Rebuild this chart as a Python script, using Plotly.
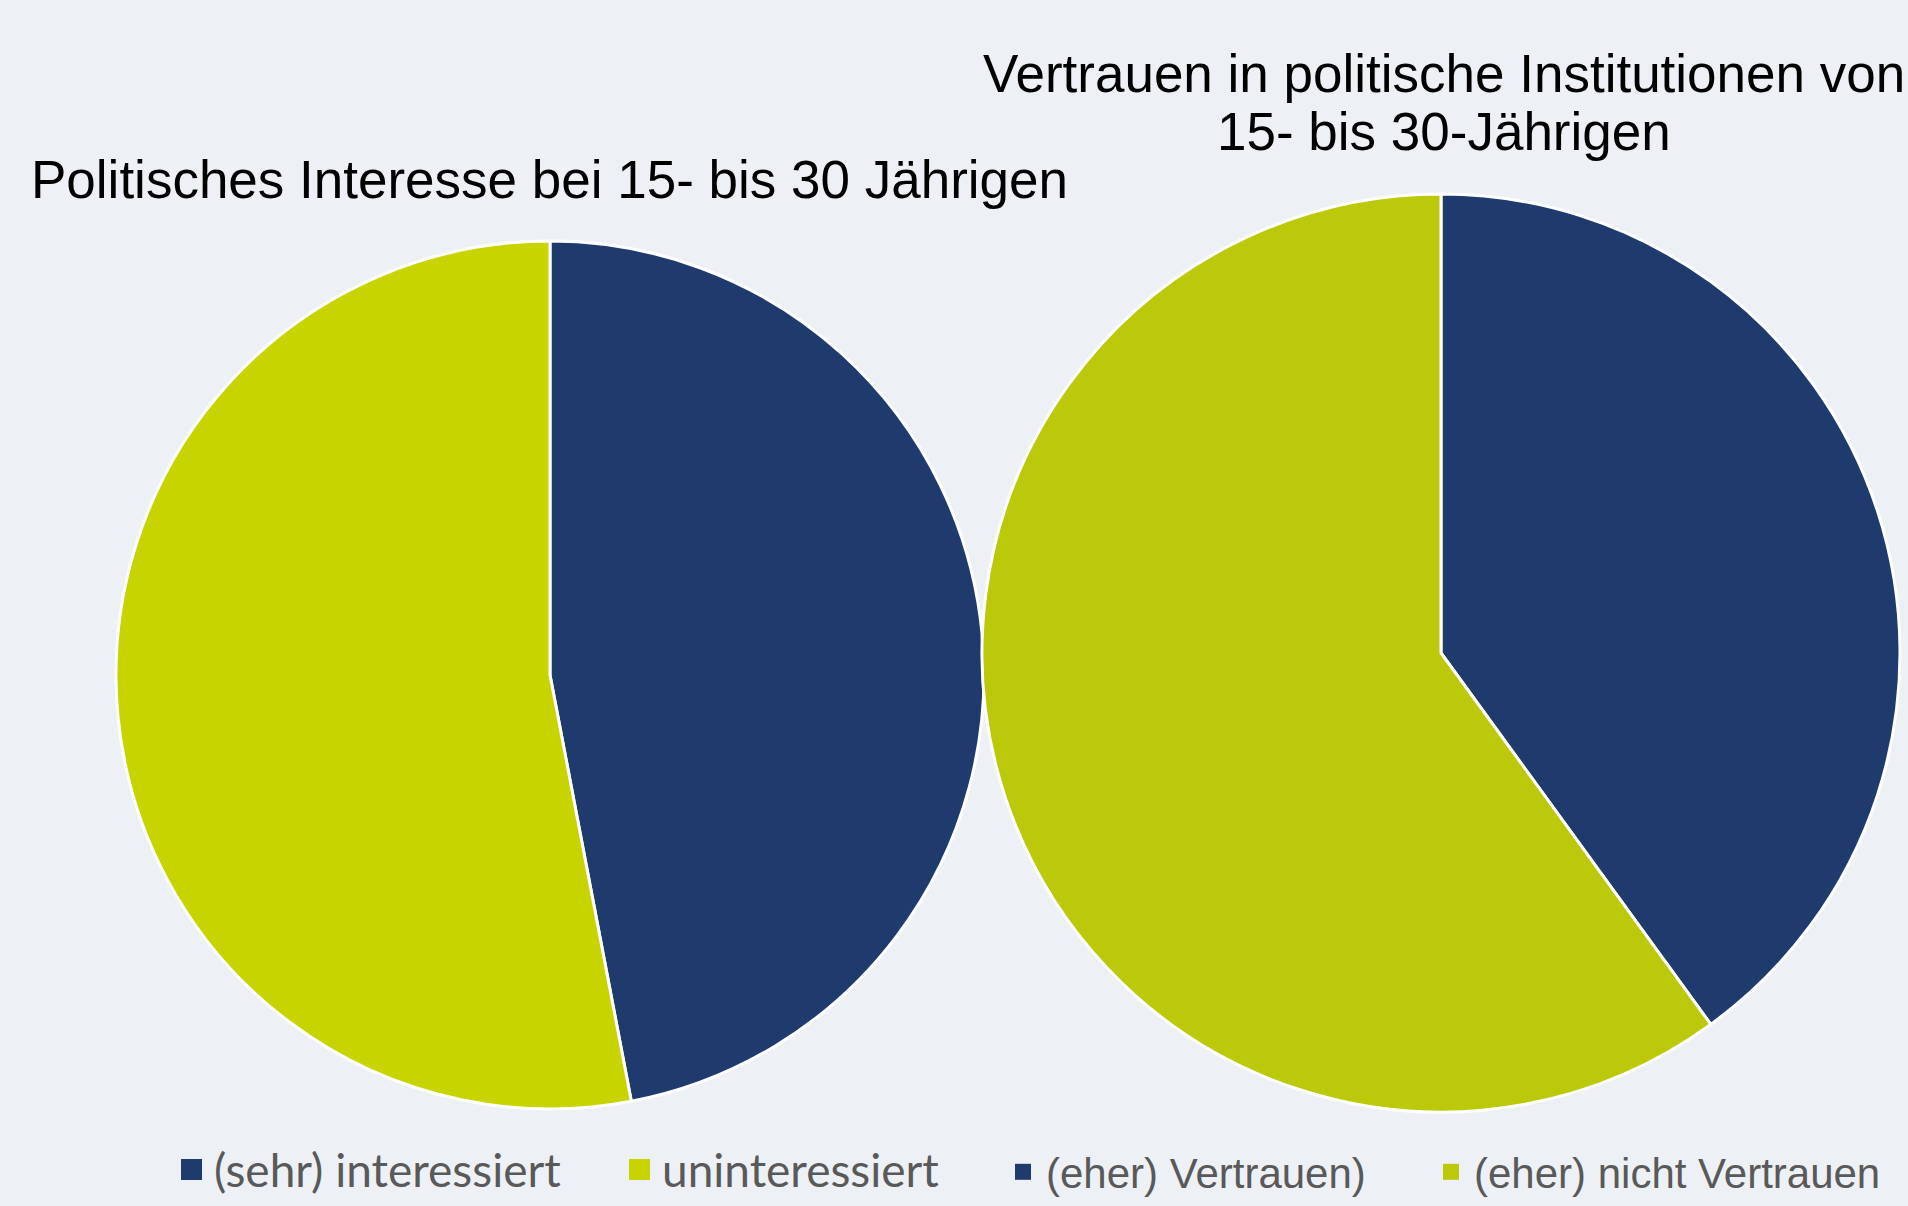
import plotly.graph_objects as go

W, H = 1908, 1206

interest_labels = ["(sehr) interessiert", "uninteressiert"]
interest_values = [47, 53]
trust_labels = ["(eher) Vertrauen)", "(eher) nicht Vertrauen"]
trust_values = [40, 60]

blue = "#1F3A6D"
yellow_l = "#C8D400"
yellow_r = "#BCC90A"
bg = "#EDF1F6"

def dom(cx, cy, r):
    return dict(x=[(cx - r) / W, (cx + r) / W], y=[1 - (cy + r) / H, 1 - (cy - r) / H])

fig = go.Figure()
fig.add_trace(go.Pie(
    labels=interest_labels, values=interest_values, sort=False, direction="clockwise", rotation=0,
    marker=dict(colors=[blue, yellow_l], line=dict(color="white", width=3)),
    textinfo="none", hoverinfo="label+percent", domain=dom(550, 675, 434), showlegend=False,
))
fig.add_trace(go.Pie(
    labels=trust_labels, values=trust_values, sort=False, direction="clockwise", rotation=0,
    marker=dict(colors=[blue, yellow_r], line=dict(color="white", width=3)),
    textinfo="none", hoverinfo="label+percent", domain=dom(1441, 653, 459), showlegend=False,
))

# legend entries, each in its own legend box
legend_ids = ["legend", "legend2", "legend3", "legend4"]
all_labels = interest_labels + trust_labels
all_colors = [blue, yellow_l, blue, yellow_r]
for i, (lab, col) in enumerate(zip(all_labels, all_colors)):
    lw = 5 if i < 2 else 0
    fig.add_trace(go.Scatter(x=[None], y=[None], mode="markers", name=lab, legend=legend_ids[i],
                             marker=dict(symbol="square", size=16, color=col, line=dict(color=col, width=lw))))

title_font = dict(family="Liberation Sans", size=53, color="#000000")
fig.add_annotation(text="Politisches Interesse bei 15- bis 30 Jährigen", x=549 / W, y=1 - 179 / H,
                   xref="paper", yref="paper", showarrow=False, xanchor="center", yanchor="middle",
                   font=title_font)
fig.add_annotation(text="Vertrauen in politische Institutionen von", x=1444 / W, y=1 - 73 / H,
                   xref="paper", yref="paper", showarrow=False, xanchor="center", yanchor="middle",
                   font=title_font)
fig.add_annotation(text="15- bis 30-Jährigen", x=1444 / W, y=1 - 131 / H,
                   xref="paper", yref="paper", showarrow=False, xanchor="center", yanchor="middle",
                   font=title_font)

left_font = dict(family="Lato", size=46, color="#595959")
right_font = dict(family="Liberation Sans", size=42, color="#595959")
leg_x = [169, 617, 1000, 1428]
legs = {}
for i, lid in enumerate(legend_ids):
    legs[lid] = dict(orientation="h", x=leg_x[i] / W, y=0, xanchor="left", yanchor="bottom",
                     font=left_font if i < 2 else right_font, bgcolor="rgba(0,0,0,0)",
                     itemwidth=35 if i < 2 else 36, itemsizing="trace")

fig.update_layout(
    width=W, height=H, margin=dict(l=0, r=0, t=0, b=0),
    paper_bgcolor=bg, plot_bgcolor=bg,
    xaxis=dict(visible=False), yaxis=dict(visible=False),
    **legs,
)

fig.write_html("out.html")
